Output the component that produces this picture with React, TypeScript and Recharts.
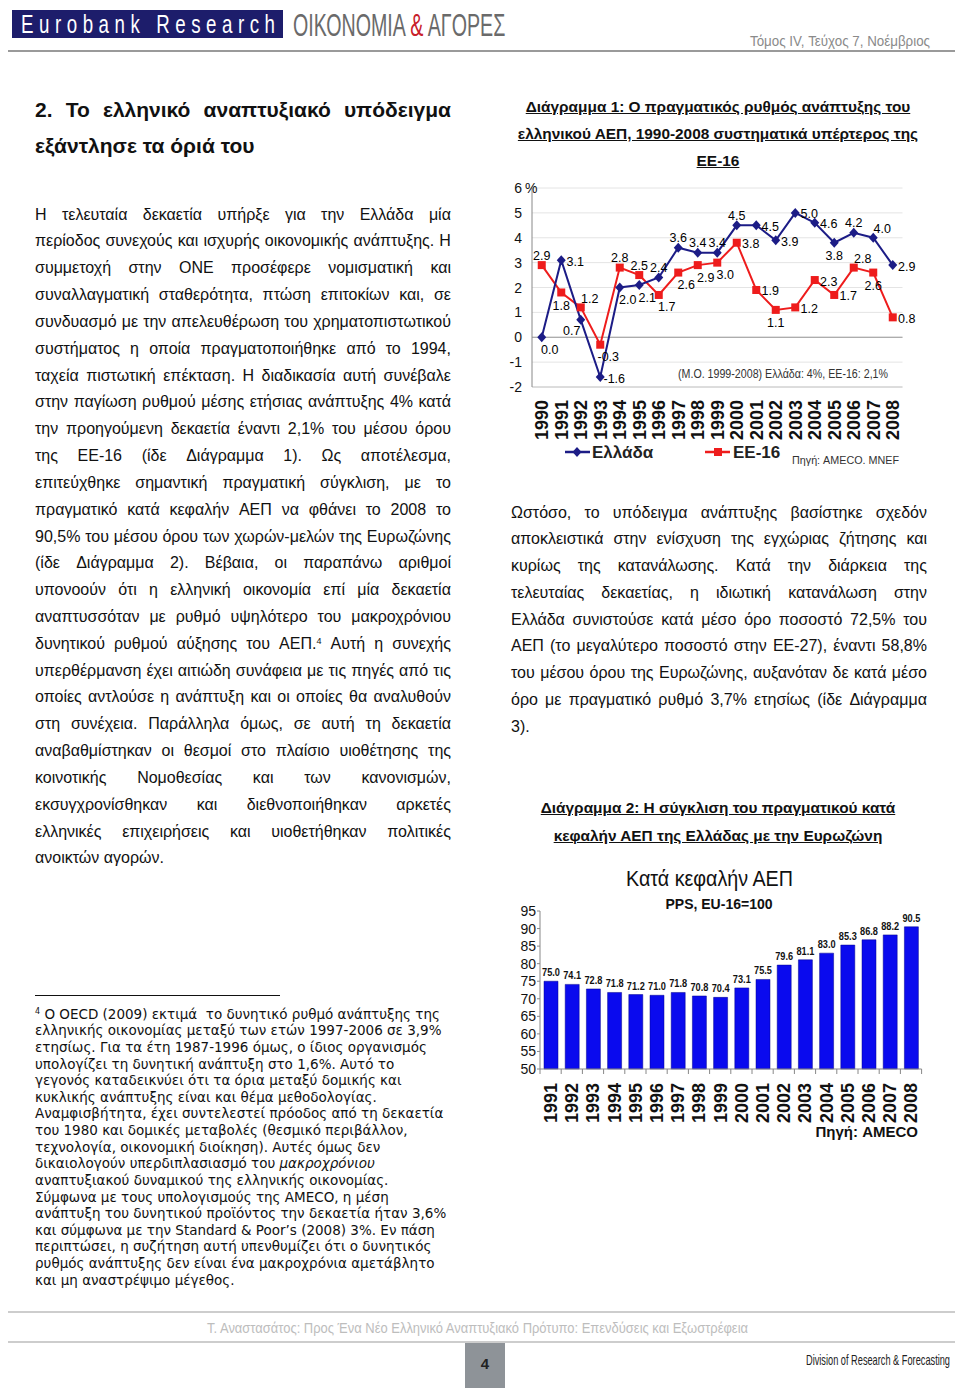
import React from 'react';
import { LineChart, Line, XAxis, YAxis, CartesianGrid, ReferenceLine, LabelList, BarChart, Bar } from 'recharts';

// ---------- DATA ----------
const growthYears = ['1990','1991','1992','1993','1994','1995','1996','1997','1998','1999','2000','2001','2002','2003','2004','2005','2006','2007','2008'];
const greeceGrowth = [0.0, 3.1, 0.7, -1.6, 2.0, 2.1, 2.4, 3.6, 3.4, 3.4, 4.5, 4.5, 3.9, 5.0, 4.6, 3.8, 4.2, 4.0, 2.9];
const eu16Growth = [2.9, 1.8, 1.2, -0.3, 2.8, 2.5, 1.7, 2.6, 2.9, 3.0, 3.8, 1.9, 1.1, 1.2, 2.3, 1.7, 2.8, 2.6, 0.8];
const growthTicks = [-2, -1, 0, 1, 2, 3, 4, 5, 6];

const gdpYears = ['1991','1992','1993','1994','1995','1996','1997','1998','1999','2000','2001','2002','2003','2004','2005','2006','2007','2008'];
const gdpPerCapita = [75.0, 74.1, 72.8, 71.8, 71.2, 71.0, 71.8, 70.8, 70.4, 73.1, 75.5, 79.6, 81.1, 83.0, 85.3, 86.8, 88.2, 90.5];
const gdpTicks = [50, 55, 60, 65, 70, 75, 80, 85, 90, 95];

// label placement codes (render config, not data)
const greeceLabelPlace = ['br','r','bl','r','br','br','t','t','t','t','t','r','r','r','r','b','t','tr','r'];
const euLabelPlace = ['t','b','tr','br','t','t','br','br','br','br','r','r','b','r','r','r','tr','b','r'];
const PLACE: Record<string, [number, number]> = {
  t: [0, -10], b: [0, 13], r: [14, 1], l: [-14, 1], tr: [9, -9], br: [8, 12], bl: [-9, 11],
};

const growthData = growthYears.map((y, i) => ({ year: y, greece: greeceGrowth[i], eu: eu16Growth[i] }));
const gdpData = gdpYears.map((y, i) => ({ year: y, value: gdpPerCapita[i] }));

// ---------- TEXT ----------
const leftHeading = ['2. Το ελληνικό αναπτυξιακό υπόδειγμα', 'εξάντλησε τα όριά του'];
const chart1Title = ['Διάγραμμα 1: Ο πραγματικός ρυθμός ανάπτυξης του', 'ελληνικού ΑΕΠ, 1990-2008 συστηματικά υπέρτερος της', 'ΕΕ-16'];
const chart2Title = ['Διάγραμμα 2: Η σύγκλιση του πραγματικού κατά', 'κεφαλήν ΑΕΠ της Ελλάδας με την Ευρωζώνη'];

const leftLines = [
  'Η τελευταία δεκαετία υπήρξε για την Ελλάδα μία',
  'περίοδος συνεχούς και ισχυρής οικονομικής ανάπτυξης. Η',
  'συμμετοχή στην ΟΝΕ προσέφερε νομισματική και',
  'συναλλαγματική σταθερότητα, πτώση επιτοκίων και, σε',
  'συνδυασμό με την απελευθέρωση του χρηματοπιστωτικού',
  'συστήματος η οποία πραγματοποιήθηκε από το 1994,',
  'ταχεία πιστωτική επέκταση. Η διαδικασία αυτή συνέβαλε',
  'στην παγίωση ρυθμού μέσης ετήσιας ανάπτυξης 4% κατά',
  'την προηγούμενη δεκαετία έναντι 2,1% του μέσου όρου',
  'της ΕΕ-16 (ίδε Διάγραμμα 1). Ως αποτέλεσμα,',
  'επιτεύχθηκε σημαντική πραγματική σύγκλιση, με το',
  'πραγματικό κατά κεφαλήν ΑΕΠ να φθάνει το 2008 το',
  '90,5% του μέσου όρου των χωρών-μελών της Ευρωζώνης',
  '(ίδε Διάγραμμα 2). Βέβαια, οι παραπάνω αριθμοί',
  'υπονοούν ότι η ελληνική οικονομία επί μία δεκαετία',
  'αναπτυσσόταν με ρυθμό υψηλότερο του μακροχρόνιου',
  'δυνητικού ρυθμού αύξησης του ΑΕΠ.^4 Αυτή η συνεχής',
  'υπερθέρμανση έχει αιτιώδη συνάφεια με τις πηγές από τις',
  'οποίες αντλούσε η ανάπτυξη και οι οποίες θα αναλυθούν',
  'στη συνέχεια. Παράλληλα όμως, σε αυτή τη δεκαετία',
  'αναβαθμίστηκαν οι θεσμοί στο πλαίσιο υιοθέτησης της',
  'κοινοτικής Νομοθεσίας και των κανονισμών,',
  'εκσυγχρονίσθηκαν και διεθνοποιήθηκαν αρκετές',
  'ελληνικές επιχειρήσεις και υιοθετήθηκαν πολιτικές',
  'ανοικτών αγορών.',
];

const rightLines = [
  'Ωστόσο, το υπόδειγμα ανάπτυξης βασίστηκε σχεδόν',
  'αποκλειστικά στην ενίσχυση της εγχώριας ζήτησης και',
  'κυρίως της κατανάλωσης. Κατά την διάρκεια της',
  'τελευταίας δεκαετίας, η ιδιωτική κατανάλωση στην',
  'Ελλάδα συνιστούσε κατά μέσο όρο ποσοστό 72,5% του',
  'ΑΕΠ (το μεγαλύτερο ποσοστό στην ΕΕ-27), έναντι 58,8%',
  'του μέσου όρου της Ευρωζώνης, αυξανόταν δε κατά μέσο',
  'όρο με πραγματικό ρυθμό 3,7% ετησίως (ίδε Διάγραμμα',
  '3).',
];

const footLines = [
  '^4 Ο OECD (2009) εκτιμά  το δυνητικό ρυθμό ανάπτυξης της',
  'ελληνικής οικονομίας μεταξύ των ετών 1997-2006 σε 3,9%',
  'ετησίως. Για τα έτη 1987-1996 όμως, ο ίδιος οργανισμός',
  'υπολογίζει τη δυνητική ανάπτυξη στο 1,6%. Αυτό το',
  'γεγονός καταδεικνύει ότι τα όρια μεταξύ δομικής και',
  'κυκλικής ανάπτυξης είναι και θέμα μεθοδολογίας.',
  'Αναμφισβήτητα, έχει συντελεστεί πρόοδος από τη δεκαετία',
  'του 1980 και δομικές μεταβολές (θεσμικό περιβάλλον,',
  'τεχνολογία, οικονομική διοίκηση). Αυτές όμως δεν',
  'δικαιολογούν υπερδιπλασιασμό του _μακροχρόνιου_',
  'αναπτυξιακού δυναμικού της ελληνικής οικονομίας.',
  'Σύμφωνα με τους υπολογισμούς της AMECO, η μέση',
  'ανάπτυξη του δυνητικού προϊόντος την δεκαετία ήταν 3,6%',
  'και σύμφωνα με την Standard & Poor’s (2008) 3%. Εν πάση',
  'περιπτώσει, η συζήτηση αυτή υπενθυμίζει ότι ο δυνητικός',
  'ρυθμός ανάπτυξης δεν είναι ένα μακροχρόνια αμετάβλητο',
  'και μη αναστρέψιμο μέγεθος.',
];

// ---------- STYLE CONSTANTS ----------
const SANS = '"Liberation Sans", Arial, Helvetica, sans-serif';
const VERD = '"DejaVu Sans", Verdana, sans-serif';
const NAVY = '#1c1c86';
const RED = '#ee1c1c';
const BAR = '#0a0aee';

function renderToken(t: string, supSize: number) {
  const parts: React.ReactNode[] = [];
  const segs = t.split(/(\^4|_[^_]+_)/);
  segs.forEach((s, i) => {
    if (!s) return;
    if (s === '^4') parts.push(<span key={i} style={{ fontSize: supSize, position: 'relative', top: -supSize * 0.55 }}>4</span>);
    else if (s.startsWith('_') && s.endsWith('_')) parts.push(<i key={i}>{s.slice(1, -1)}</i>);
    else parts.push(<React.Fragment key={i}>{s}</React.Fragment>);
  });
  return parts;
}

function JustLine({ text, justify, lh, supSize }: { text: string; justify: boolean; lh: number; supSize: number }) {
  if (!justify) {
    return <div style={{ height: lh, lineHeight: `${lh}px`, whiteSpace: 'pre' }}>{renderToken(text, supSize)}</div>;
  }
  const words = text.split(' ');
  return (
    <div style={{ height: lh, lineHeight: `${lh}px`, display: 'flex', justifyContent: 'space-between', whiteSpace: 'nowrap' }}>
      {words.map((w, i) => <span key={i}>{renderToken(w, supSize)}</span>)}
    </div>
  );
}

// ---------- CHART PIECES ----------
const Diamond = (p: any) => {
  const { cx, cy } = p;
  if (cx == null || cy == null) return <g key={p.index} />;
  return <path key={p.index} d={`M${cx},${cy - 5} L${cx + 4.5},${cy} L${cx},${cy + 5} L${cx - 4.5},${cy} Z`} fill={NAVY} />;
};
const Square = (p: any) => {
  const { cx, cy } = p;
  if (cx == null || cy == null) return <g key={p.index} />;
  return <rect key={p.index} x={cx - 4} y={cy - 4} width={8} height={8} fill={RED} />;
};

const makeValueLabel = (places: string[]) => (p: any) => {
  const { x, y, value, index } = p;
  const [dx, dy] = PLACE[places[index]] || [0, -10];
  return (
    <text x={x + dx} y={y + dy} dy="0.36em" textAnchor="middle" fontSize={12.5} fill="#000" fontFamily={SANS}>
      {Number(value).toFixed(1)}
    </text>
  );
};

const GrowthYTick = (p: any) => {
  const { x, y, payload } = p;
  return (
    <g>
      <text x={x} y={y} dy="0.36em" textAnchor="end" fontSize={14} fill="#111" fontFamily={SANS}>{payload.value}</text>
      {payload.value === 6 && <text x={x + 3} y={y} dy="0.36em" textAnchor="start" fontSize={14} fill="#111" fontFamily={SANS}>%</text>}
    </g>
  );
};

const YearTick = (p: any) => {
  const { x, y, payload } = p;
  return (
    <text transform={`translate(${x},${y}) rotate(-90)`} textAnchor="end" dy="0.36em" fontSize={18} fontWeight="bold" fill="#111" fontFamily={SANS}>
      {payload.value}
    </text>
  );
};

const C2_W = 430, C2_LEFT = 40, C2_RIGHT = 8.4;
const BAND2 = (C2_W - C2_LEFT - C2_RIGHT) / gdpYears.length;

const YearTick2 = (p: any) => {
  const { x, y, payload, index } = p;
  const axisY = y - 14;
  return (
    <g>
      <line x1={x - BAND2 / 2} x2={x - BAND2 / 2} y1={axisY} y2={axisY + 5} stroke="#888" />
      {index === gdpYears.length - 1 && <line x1={x + BAND2 / 2} x2={x + BAND2 / 2} y1={axisY} y2={axisY + 5} stroke="#888" />}
      <text transform={`translate(${x},${y}) rotate(-90)`} textAnchor="end" dy="0.36em" fontSize={18} fontWeight="bold" fill="#111" fontFamily={SANS}>
        {payload.value}
      </text>
    </g>
  );
};

const GdpYTick = (p: any) => {
  const { x, y, payload } = p;
  return <text x={x} y={y} dy="0.36em" textAnchor="end" fontSize={14} fill="#111" fontFamily={SANS}>{payload.value}</text>;
};

const BarValueLabel = (p: any) => {
  const { x, y, width, value } = p;
  return (
    <g transform={`translate(${x + width / 2},${y - 5}) scale(0.8,1)`}>
      <text x={0} y={0} textAnchor="middle" fontSize={11.5} fontWeight="bold" fill="#111" fontFamily={SANS}>
        {Number(value).toFixed(1)}
      </text>
    </g>
  );
};

export default function App() {
  const bodyLH = 26.83;
  const rightLH = 26.75;
  const footLH = 16.625;
  return (
    <div style={{ position: 'absolute', left: 0, top: 0, width: 960, height: 1390, background: '#fff', overflow: 'hidden', fontFamily: SANS, color: '#111' }}>
      {/* Left heading */}
      <div style={{ position: 'absolute', left: 35, top: 92, width: 416, fontSize: 21, fontWeight: 'bold' }}>
        <JustLine text={leftHeading[0]} justify lh={36} supSize={10} />
        <JustLine text={leftHeading[1]} justify={false} lh={36} supSize={10} />
      </div>

      {/* Chart 1 title */}
      <div style={{ position: 'absolute', left: 505, top: 92.5, width: 426, fontSize: 15.4, fontWeight: 'bold', textAlign: 'center', lineHeight: '27px', textDecoration: 'underline' }}>
        {chart1Title.map((t, i) => <div key={i} style={{ whiteSpace: 'nowrap' }}>{t}</div>)}
      </div>

      {/* Left body */}
      <div style={{ position: 'absolute', left: 35, top: 215 - bodyLH / 2, width: 416, fontSize: 16 }}>
        {leftLines.map((t, i) => <JustLine key={i} text={t} justify={i < leftLines.length - 1} lh={bodyLH} supSize={9} />)}
      </div>

      {/* Right body */}
      <div style={{ position: 'absolute', left: 511, top: 513 - rightLH / 2, width: 416, fontSize: 16 }}>
        {rightLines.map((t, i) => <JustLine key={i} text={t} justify={i < rightLines.length - 1} lh={rightLH} supSize={9} />)}
      </div>

      {/* Chart 2 title */}
      <div style={{ position: 'absolute', left: 505, top: 794, width: 426, fontSize: 15.4, fontWeight: 'bold', textAlign: 'center', lineHeight: '28px', textDecoration: 'underline' }}>
        {chart2Title.map((t, i) => <div key={i} style={{ whiteSpace: 'nowrap' }}>{t}</div>)}
      </div>

      {/* Footnote */}
      <div style={{ position: 'absolute', left: 35, top: 995, width: 245, height: 1, background: '#111' }} />
      <div style={{ position: 'absolute', left: 35, top: 1014 - footLH / 2, width: 430, fontSize: 13.5, fontFamily: VERD }}>
        {footLines.map((t, i) => <JustLine key={i} text={t} justify={false} lh={footLH} supSize={8} />)}
      </div>

      {/* Chart 1 */}
      <div style={{ position: 'absolute', left: 500, top: 180 }}>
        <LineChart width={420} height={290} data={growthData} margin={{ top: 8, right: 17.5, left: 0, bottom: 0 }}>
          <CartesianGrid horizontal vertical={false} stroke="#e4e4e4" />
          <XAxis dataKey="year" interval={0} padding={{ left: 9.75, right: 9.75 }} height={83} tickLine={false} tickSize={6} tickMargin={7} axisLine={{ stroke: '#c8c8c8' }} tick={<YearTick />} />
          <YAxis domain={[-2, 6]} ticks={growthTicks} width={32} tickLine={false} tickSize={8} tickMargin={2} axisLine={{ stroke: '#888' }} tick={<GrowthYTick />} interval={0} />
          <ReferenceLine y={0} stroke="#999" />
          <Line dataKey="eu" stroke={RED} strokeWidth={2} dot={(p: any) => <Square key={p.index} {...p} />} isAnimationActive={false}>
            <LabelList dataKey="eu" content={makeValueLabel(euLabelPlace)} />
          </Line>
          <Line dataKey="greece" stroke={NAVY} strokeWidth={2} dot={(p: any) => <Diamond key={p.index} {...p} />} isAnimationActive={false}>
            <LabelList dataKey="greece" content={makeValueLabel(greeceLabelPlace)} />
          </Line>
        </LineChart>
      </div>

      {/* Chart 2 */}
      <div style={{ position: 'absolute', left: 500, top: 895 }}>
        <BarChart width={C2_W} height={234} data={gdpData} margin={{ top: 16, right: C2_RIGHT, left: 0, bottom: 0 }}>
          <XAxis dataKey="year" interval={0} height={60} tickLine={false} tickSize={6} tickMargin={8} axisLine={{ stroke: '#888' }} tick={<YearTick2 />} />
          <YAxis domain={[50, 95]} ticks={gdpTicks} width={C2_LEFT} interval={0} tickLine={{ stroke: '#888' }} tickSize={3} tickMargin={1} axisLine={{ stroke: '#888' }} tick={<GdpYTick />} />
          <Bar dataKey="value" fill={BAR} stroke="#00008c" strokeWidth={0.5} barSize={14} isAnimationActive={false}>
            <LabelList dataKey="value" content={<BarValueLabel />} />
          </Bar>
        </BarChart>
      </div>

      {/* Overlay: header, footer, legends, annotations */}
      <svg width={960} height={1390} style={{ position: 'absolute', left: 0, top: 0, pointerEvents: 'none' }}>
        <rect x={12} y={10} width={271} height={28} fill="#1d1d6b" />
        <g transform="translate(21,33) scale(0.72,1)">
          <text x={0} y={0} fontSize={26} fill="#fff" fontFamily={SANS} textLength={254 / 0.72} lengthAdjust="spacing">Eurobank Research</text>
        </g>
        <g transform="translate(293,36) scale(0.614,1)">
          <text x={0} y={0} fontSize={32} fill="#6a6a6a" fontFamily={SANS}>
            ΟΙΚΟΝΟΜΙΑ <tspan fill="#c8202a">&amp;</tspan> ΑΓΟΡΕΣ
          </text>
        </g>
        <g transform="translate(750,46) scale(0.84,1)">
          <text x={0} y={0} fontSize={15} fill="#8a8a8a" fontFamily={SANS} textLength={180 / 0.84} lengthAdjust="spacingAndGlyphs">Τόμος IV, Τεύχος 7, Νοέμβριος</text>
        </g>
        <line x1={8} x2={955} y1={51} y2={51} stroke="#9a9a9a" strokeWidth={2} />

        {/* chart 1 extras */}
        <text x={678} y={378} fontSize={12} fill="#333" fontFamily={SANS} textLength={210} lengthAdjust="spacingAndGlyphs">(Μ.Ο. 1999-2008) Ελλάδα: 4%, ΕΕ-16: 2,1%</text>
        <line x1={565} x2={590} y1={452} y2={452} stroke={NAVY} strokeWidth={2.5} />
        <path d="M577,447 L581.5,452 L577,457 L572.5,452 Z" fill={NAVY} />
        <text x={592} y={458} fontSize={17} fontWeight="bold" fill="#222" fontFamily={SANS}>Ελλάδα</text>
        <line x1={705} x2={730} y1={452} y2={452} stroke={RED} strokeWidth={2.5} />
        <rect x={714} y={448} width={8} height={8} fill={RED} />
        <text x={733} y={458} fontSize={17} fontWeight="bold" fill="#222" fontFamily={SANS}>ΕΕ-16</text>
        <text x={792} y={464} fontSize={11.5} fill="#333" fontFamily={SANS} textLength={107} lengthAdjust="spacingAndGlyphs">Πηγή: AMECO. MNEF</text>

        {/* chart 2 extras */}
        <g transform="translate(626,886) scale(0.9,1)">
          <text x={0} y={0} fontSize={22} fill="#111" fontFamily={SANS} textLength={167 / 0.9} lengthAdjust="spacingAndGlyphs">Κατά κεφαλήν ΑΕΠ</text>
        </g>
        <text x={719} y={909} fontSize={14} fontWeight="bold" fill="#111" fontFamily={SANS} textAnchor="middle">PPS, EU-16=100</text>
        <text x={918} y={1137} fontSize={15} fontWeight="bold" fill="#111" fontFamily={SANS} textAnchor="end">Πηγή: AMECO</text>

        {/* footer */}
        <line x1={8} x2={955} y1={1312} y2={1312} stroke="#bdbdbd" strokeWidth={1.5} />
        <g transform="translate(207,1333) scale(0.9,1)">
          <text x={0} y={0} fontSize={15} fill="#bdbdbd" fontFamily={SANS} textLength={541 / 0.9} lengthAdjust="spacingAndGlyphs">Τ. Αναστασάτος: Προς Ένα Νέο Ελληνικό Αναπτυξιακό Πρότυπο: Επενδύσεις και Εξωστρέφεια</text>
        </g>
        <line x1={8} x2={955} y1={1342} y2={1342} stroke="#bdbdbd" strokeWidth={1.5} />
        <rect x={465} y={1343} width={40} height={45} fill="#8e9398" />
        <text x={485} y={1369} fontSize={15} fontWeight="bold" fill="#222" fontFamily={SANS} textAnchor="middle">4</text>
        <g transform="translate(806,1365) scale(0.65,1)">
          <text x={0} y={0} fontSize={14} fill="#222" fontFamily={SANS} textLength={144 / 0.65} lengthAdjust="spacingAndGlyphs">Division of Research &amp; Forecasting</text>
        </g>
      </svg>
    </div>
  );
}
